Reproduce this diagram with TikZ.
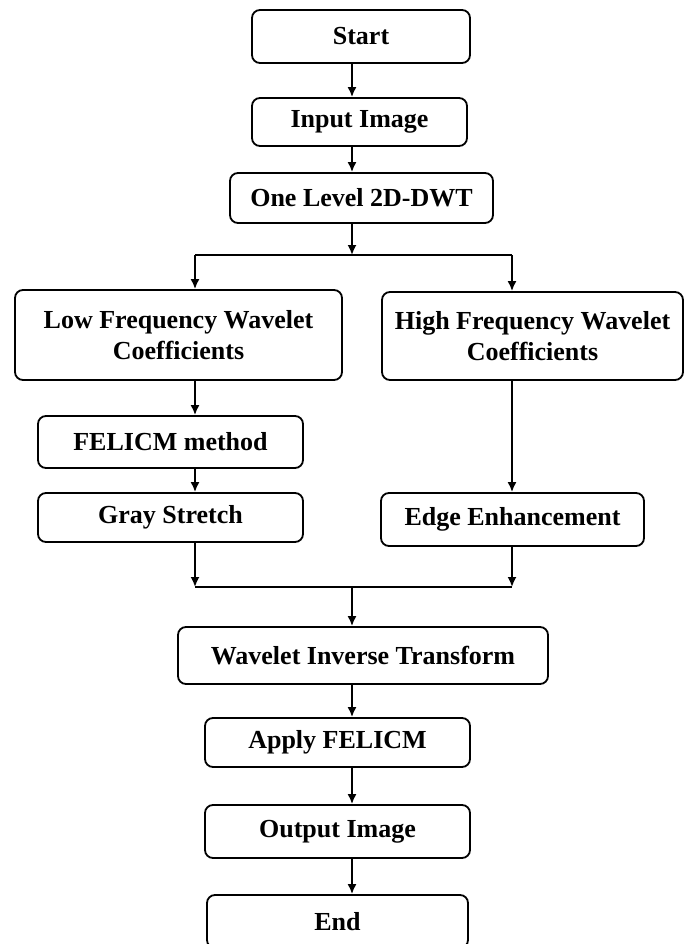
\documentclass[tikz,border=0pt]{standalone}
\usepackage{fontspec}
\setmainfont{Liberation Serif}
\usetikzlibrary{arrows.meta}
\usetikzlibrary{positioning}

\begin{document}
\begin{tikzpicture}[x=0.5pt, y=-0.5pt, >={Latex[length=5pt,width=4.5pt]}, line width=0.9pt,
    stepbox/.style={draw, rounded corners=4pt, align=center, inner sep=2pt,
      font=\fontsize{13}{15.5}\selectfont\bfseries}]
    \useasboundingbox (0,0) rectangle (685,944);
    %% top column
    \node[stepbox, minimum width=109pt, minimum height=26.5pt] (start) at (361,36.5) {Start};
    \node[stepbox, minimum width=107.5pt, minimum height=24pt] (input) at (359.5,122) {Input Image};
    \node[stepbox, minimum width=131.5pt, minimum height=25pt] (dwt) at (361.5,198) {One Level 2D-DWT};
    %% two branches
    \node[stepbox, minimum width=163.5pt, minimum height=45pt] (low) at (178.5,335) {Low Frequency Wavelet\\Coefficients};
    \node[stepbox, minimum width=150.5pt, minimum height=44pt] (high) at (532.5,336) {High Frequency Wavelet\\Coefficients};
    \node[stepbox, minimum width=132.5pt, minimum height=26pt] (felicm) at (170.5,442) {FELICM method};
    \node[stepbox, minimum width=132.5pt, minimum height=24.5pt] (gray) at (170.5,517.5) {Gray Stretch};
    \node[stepbox, minimum width=131.5pt, minimum height=26.5pt] (edge) at (512.5,519.5) {Edge Enhancement};
    %% bottom column
    \node[stepbox, minimum width=185pt, minimum height=28.5pt] (inverse) at (363,655.5) {Wavelet Inverse Transform};
    \node[stepbox, minimum width=132.5pt, minimum height=24.5pt] (apply) at (337.5,742.5) {Apply FELICM};
    \node[stepbox, minimum width=132.5pt, minimum height=26.5pt] (output) at (337.5,831.5) {Output Image};
    \node[stepbox, minimum width=130.5pt, minimum height=26.5pt] (end) at (337.5,921.5) {End};
    %% guide coordinates
    \coordinate (spine) at (352,0);
    \coordinate (lcol) at (195,0);
    \coordinate (rcol) at (512,0);
    \coordinate (split) at (352,255);
    \coordinate (merge) at (352,587);
    %% -- arrows down the top column
    \draw[->] (start.south -| spine) -- (input.north -| spine);
    \draw[->] (input.south -| spine) -- (dwt.north -| spine);
    \draw[->] (dwt.south -| spine) -- (split);
    %% -- split into the branches
    \draw (split -| lcol) -- (split -| rcol);
    \draw[->] (split -| lcol) -- (low.north -| lcol);
    \draw[->] (split -| rcol) -- (high.north -| rcol);
    %% -- -- left
    \draw[->] (low.south -| lcol) -- (felicm.north -| lcol);
    \draw[->] (felicm.south -| lcol) -- (gray.north -| lcol);
    \draw[->] (gray.south -| lcol) -- (merge -| lcol);
    %% -- -- right
    \draw[->] (high.south -| rcol) -- (edge.north -| rcol);
    \draw[->] (edge.south -| rcol) -- (merge -| rcol);
    %% -- merge and bottom column
    \draw (merge -| lcol) -- (merge -| rcol);
    \draw[->] (merge) -- (inverse.north -| spine);
    \draw[->] (inverse.south -| spine) -- (apply.north -| spine);
    \draw[->] (apply.south -| spine) -- (output.north -| spine);
    \draw[->] (output.south -| spine) -- (end.north -| spine);
\end{tikzpicture}
\end{document}
